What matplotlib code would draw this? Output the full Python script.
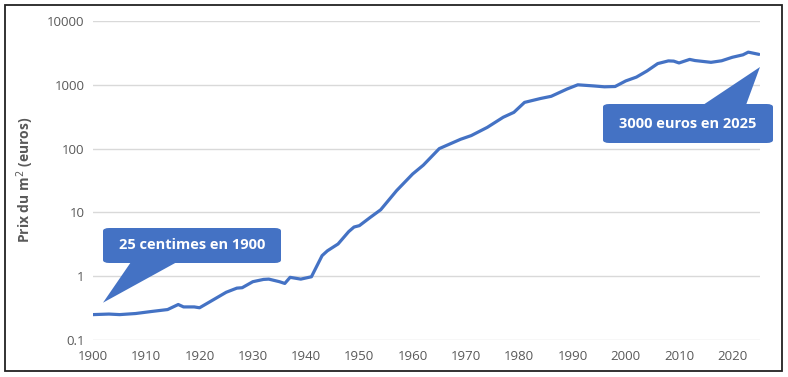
import matplotlib
matplotlib.use("Agg")
import matplotlib.pyplot as plt
from matplotlib.patches import FancyBboxPatch, Polygon, Rectangle

years = [1900, 1903, 1905, 1908, 1911, 1914, 1916, 1917, 1919, 1920, 1922, 1925, 1927, 1928,
         1930, 1932, 1933, 1935, 1936, 1937, 1939, 1941, 1943, 1944, 1946, 1948, 1949, 1950,
         1952, 1954, 1957, 1960, 1962, 1965, 1969, 1971, 1974, 1977, 1979, 1981, 1984, 1986,
         1989, 1991, 1994, 1996, 1998, 2000, 2002, 2004, 2006, 2008, 2009, 2010, 2012, 2013,
         2016, 2018, 2020, 2022, 2023, 2025]
prix = [0.25, 0.255, 0.25, 0.26, 0.28, 0.30, 0.36, 0.33, 0.33, 0.32, 0.40, 0.56, 0.65, 0.66,
        0.82, 0.89, 0.90, 0.82, 0.77, 0.96, 0.90, 0.98, 2.1, 2.5, 3.2, 5.0, 5.9, 6.2,
        8.3, 11, 22, 40, 55, 100, 140, 160, 215, 310, 370, 530, 610, 660,
        860, 1000, 960, 930, 940, 1150, 1320, 1650, 2150, 2370, 2350, 2200, 2500, 2400,
        2250, 2380, 2700, 2950, 3250, 3000]

yticks = [0.1, 1, 10, 100, 1000, 10000]
ylabels = ["0.1", "1", "10", "100", "1000", "10000"]
xticks = list(range(1900, 2021, 10))

bleu = "#4472C4"
gris = "#595959"
W, H = 788, 377

plt.rcParams['font.family'] = ['Open Sans', 'DejaVu Sans']

fig = plt.figure(figsize=(W/100, H/100), dpi=100)
ax = fig.add_axes([93/W, 1-340/H, (760-93)/W, (340-21)/H])

ax.plot(years, prix, color=bleu, lw=2.3, solid_capstyle='round', zorder=3)
ax.set_yscale('log')
ax.set_ylim(0.1, 10000)
ax.set_xlim(1900, 2025.2)
ax.set_yticks(yticks)
ax.set_yticklabels(ylabels)
ax.minorticks_off()
ax.set_xticks(xticks)
ax.tick_params(length=0, labelsize=9.5, labelcolor=gris, pad=6)
ax.tick_params(axis='x', pad=7)
ax.grid(axis='y', color='#d9d9d9', lw=1)
ax.set_axisbelow(True)
for s in ax.spines.values():
    s.set_visible(False)

fig.text(25/W, 1-180/H, "Prix du m$^2$ (euros)", rotation=90, ha='center', va='center',
         fontsize=10, fontweight='bold', color=gris)


def px(x, y):
    return (x/W, 1-y/H)


def bulle(x0, y0, x1, y1, tri, texte):
    box = FancyBboxPatch(px(x0, y1), (x1-x0)/W, (y1-y0)/H,
                         boxstyle="round,pad=0,rounding_size=0.008",
                         transform=fig.transFigure, fc=bleu, ec='none', zorder=5)
    fig.patches.append(box)
    fig.patches.append(Polygon([px(*p) for p in tri], closed=True, transform=fig.transFigure,
                               fc=bleu, ec='none', zorder=5))
    cx, cy = px((x0+x1)/2, (y0+y1)/2)
    fig.text(cx, cy, texte, ha='center', va='center', color='white',
             fontsize=10.5, fontweight='bold', zorder=6)


bulle(103, 228, 281, 263, [(131, 262), (177, 262), (103, 302.7)], "25 centimes en 1900")
bulle(603, 104, 773, 143, [(703, 105), (746, 105), (760, 67)], "3000 euros en 2025")

fig.patches.append(Rectangle((5/W, 1-371/H), 777/W, 366/H, transform=fig.transFigure,
                             fill=False, ec='#222222', lw=1.3))

fig.savefig("out.png", dpi=100)
